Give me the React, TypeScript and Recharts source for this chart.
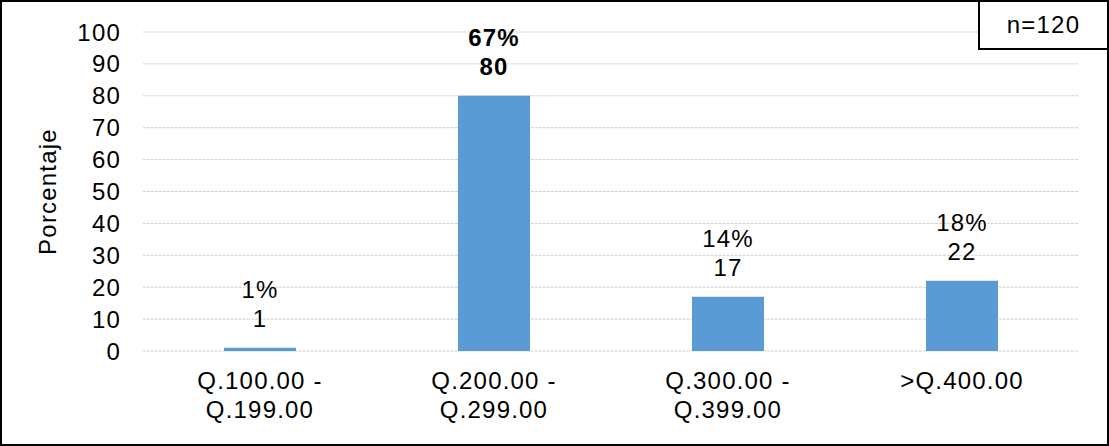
import { Bar, BarChart, CartesianGrid, LabelList, XAxis, YAxis } from "recharts";

const categories = ["Q.100.00 - Q.199.00", "Q.200.00 - Q.299.00", "Q.300.00 - Q.399.00", ">Q.400.00"];
const categoryLines = [
  ["Q.100.00 -", "Q.199.00"],
  ["Q.200.00 -", "Q.299.00"],
  ["Q.300.00 -", "Q.399.00"],
  [">Q.400.00"],
];
const counts = [1, 80, 17, 22];
const percents = ["1%", "67%", "14%", "18%"];
const yTicks = [0, 10, 20, 30, 40, 50, 60, 70, 80, 90, 100];

const data = categories.map((name, i) => ({
  name,
  lines: categoryLines[i],
  count: counts[i],
  pct: percents[i],
}));

const FONT = "'Liberation Sans', Arial, sans-serif";
const TEXT = { fontFamily: FONT, fontSize: 24, letterSpacing: 1.2, fill: "#000" };

function XTick(props: any) {
  const { x, y, index } = props;
  const lines = categoryLines[index] || [];
  return (
    <g>
      {lines.map((l, i) => (
        <text key={i} x={x} y={y + 24 + i * 29} textAnchor="middle" dominantBaseline="middle" style={TEXT}>
          {l}
        </text>
      ))}
    </g>
  );
}

function BarLabel(props: any) {
  const { x, y, width, index } = props;
  const cx = x + width / 2;
  const bold = index === 1;
  const style = { ...TEXT, fontWeight: bold ? 700 : 400 };
  return (
    <g>
      <text x={cx} y={y - 56} textAnchor="middle" dominantBaseline="middle" style={style}>
        {percents[index]}
      </text>
      <text x={cx} y={y - 27} textAnchor="middle" dominantBaseline="middle" style={style}>
        {counts[index]}
      </text>
    </g>
  );
}

function YLabel(props: any) {
  const { viewBox } = props;
  const cy = viewBox.y + viewBox.height / 2;
  return (
    <text
      x={50}
      y={cy}
      transform={`rotate(-90 50 ${cy})`}
      textAnchor="middle"
      dominantBaseline="middle"
      style={TEXT}
    >
      Porcentaje
    </text>
  );
}

export default function App() {
  return (
    <div style={{ position: "absolute", left: 0, top: 0, width: 1109, height: 446, background: "#fff" }}>
      <BarChart
        width={1109}
        height={446}
        data={data}
        margin={{ top: 32, right: 30, bottom: 0, left: 0 }}
      >
        <CartesianGrid vertical={false} stroke="#d0d0d0" strokeDasharray="3 1" />
        <XAxis
          dataKey="name"
          height={95}
          axisLine={false}
          tickLine={false}
          tick={<XTick />}
          interval={0}
        />
        <YAxis
          width={143}
          domain={[0, 100]}
          ticks={yTicks}
          interval={0}
          axisLine={false}
          tickLine={false}
          tickMargin={16}
          tick={TEXT}
          label={<YLabel />}
        />
        <Bar dataKey="count" fill="#5B9BD5" barSize={72} isAnimationActive={false}>
          <LabelList dataKey="count" content={<BarLabel />} />
        </Bar>
      </BarChart>
      <div
        style={{
          position: "absolute",
          inset: 0,
          border: "2px solid #000",
          boxSizing: "border-box",
          pointerEvents: "none",
        }}
      />
      <div
        style={{
          position: "absolute",
          left: 978,
          top: 0,
          width: 131,
          height: 50,
          border: "2px solid #000",
          boxSizing: "border-box",
          background: "#fff",
          display: "flex",
          alignItems: "center",
          justifyContent: "center",
          fontFamily: FONT,
          fontSize: 24,
          letterSpacing: 1.2,
          color: "#000",
        }}
      >
        n=120
      </div>
    </div>
  );
}
